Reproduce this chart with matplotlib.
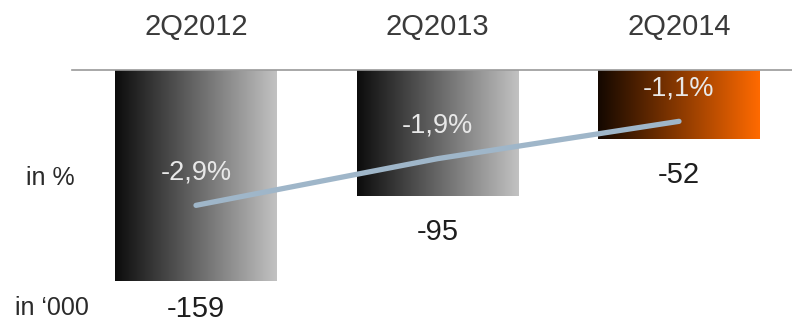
"""
Bar chart with horizontal-gradient bars (in '000) and a percent line on top.
"""
import matplotlib.pyplot as plt
import numpy as np
from matplotlib.colors import LinearSegmentedColormap

# ------------------------------------------------------------
# data
# ------------------------------------------------------------
quarters = ['2Q2012', '2Q2013', '2Q2014']
values_k = [-159, -95, -52]
pct_values = [-2.9, -1.9, -1.1]
pct_labels = ['-2,9%', '-1,9%', '-1,1%']
value_labels = ['-159', '-95', '-52']

# gradient ends per bar (left -> right)
grad_colors = [('#0c0c0c', '#c2c2c2'), ('#0c0c0c', '#c2c2c2'), ('#140800', '#ff6a00')]

plt.rcParams['font.family'] = ['Liberation Sans', 'DejaVu Sans']

fig = plt.figure(figsize=(7.92, 3.24), dpi=100)
ax = fig.add_axes([0, 0, 1, 1])

# pixel layout: bar centres at 196/437/679 px, zero line at 70 px from top
px_per_x = 241.5
px_per_k = 1.33
ax.set_xlim(-196 / px_per_x, (792 - 196) / px_per_x)
ax.set_ylim(-254 / px_per_k, 70 / px_per_k)
ax.axis('off')

x = np.arange(len(quarters))
bars = ax.bar(x, values_k, width=0.667, color='none', edgecolor='none')

grad = np.linspace(0, 1, 256).reshape(1, -1)
for bar, (c0, c1) in zip(bars, grad_colors):
    cmap = LinearSegmentedColormap.from_list('g', [c0, c1])
    x0, y0 = bar.get_x(), bar.get_y()
    w, h = bar.get_width(), bar.get_height()
    im = ax.imshow(grad, cmap=cmap, aspect='auto',
                   extent=(x0, x0 + w, y0 + h, y0), zorder=1)
    im.set_clip_path(bar)

# baseline
ax.axhline(0, xmin=72 / 792, xmax=1, color='#9a9a9a', linewidth=1.2, zorder=3)

# value labels below bars (the deepest one sits a bit tighter so it stays in frame)
for xi, v, lab in zip(x, values_k, value_labels):
    off = -26 if v > -150 else -20
    ax.annotate(lab, (xi, v), xytext=(0, off), textcoords='offset points',
                ha='center', va='center', fontsize=21, color='#1e1e1e')

# quarter labels on top
for xi, q in zip(x, quarters):
    ax.text(xi, 32, q, ha='center', va='center', fontsize=21, color='#3a3a3a')

# percent line on its own axis (0% shares the zero line)
ax2 = ax.twinx()
px_per_pct = 46.67
ax2.set_ylim(-254 / px_per_pct, 70 / px_per_pct)
ax2.axis('off')
ax2.plot(x, pct_values, color='#9fb6c9', linewidth=3.8,
         solid_capstyle='round', zorder=4)
for xi, p, lab in zip(x, pct_values, pct_labels):
    ax2.annotate(lab, (xi, p), xytext=(0, 24), textcoords='offset points',
                 ha='center', va='center', fontsize=19.5, color='#e8e8e8')

# row captions
fig.text(50 / 792, 1 - 178 / 324, 'in %', ha='center', va='center',
         fontsize=18, color='#2a2a2a')
fig.text(52 / 792, 1 - 308 / 324, 'in \u2018000', ha='center', va='center',
         fontsize=18, color='#2a2a2a')

fig.savefig('out.png', dpi=100)
